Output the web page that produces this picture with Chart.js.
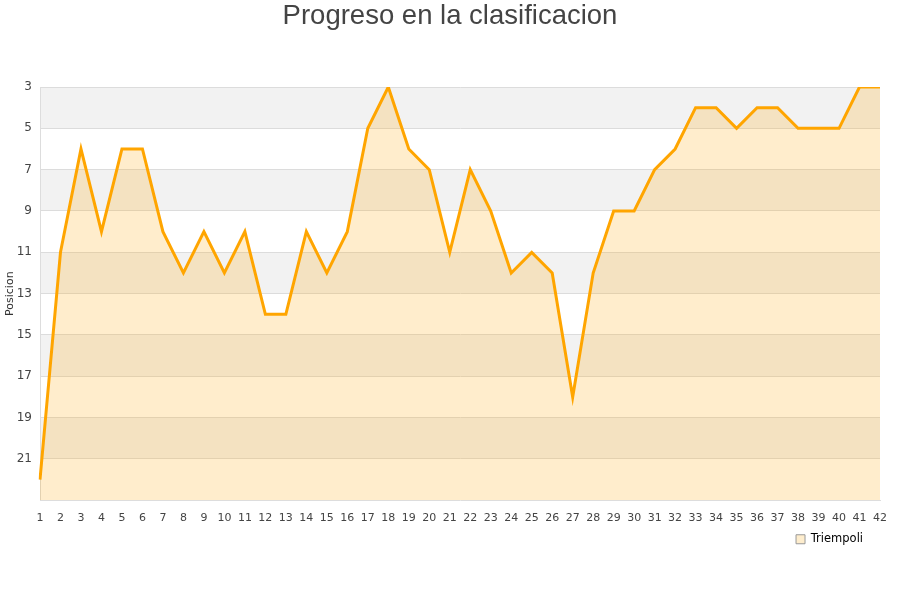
<!DOCTYPE html>
<html>
<head>
<meta charset="utf-8">
<script src="https://cdn.jsdelivr.net/npm/chart.js@4"></script>
<style>
  body { margin: 0; background: #fff; }
</style>
</head>
<body>
<canvas id="rankChart" width="900" height="600"></canvas>
<script>
// jornadas 1..42
var jornadas = [];
for (var i = 1; i <= 42; i++) jornadas.push(String(i));

var posiciones = [22, 11, 6, 10, 6, 6, 10, 12, 10, 12,
                  10, 14, 14, 10, 12, 10, 5, 3, 6, 7,
                  11, 7, 9, 12, 11, 12, 18, 12, 9, 9,
                  7, 6, 4, 4, 5, 4, 4, 5, 5, 5,
                  3, 3];

var yTicks = [3, 5, 7, 9, 11, 13, 15, 17, 19, 21];
// shaded bands behind the plot (from, to)
var bandas = [[3, 5], [7, 9], [11, 13], [15, 17], [19, 21]];

const bandPlugin = {
  id: 'bands',
  beforeDraw(chart) {
    const ctx = chart.ctx, y = chart.scales.y, a = chart.chartArea;
    ctx.save();
    ctx.fillStyle = '#f2f2f2';
    for (const b of bandas) {
      const y1 = y.getPixelForValue(b[0]), y2 = y.getPixelForValue(b[1]);
      ctx.fillRect(a.left, y1, a.right - a.left, y2 - y1);
    }
    ctx.restore();
  }
};

new Chart('rankChart', {
  type: 'line',
  data: {
    labels: jornadas,
    datasets: [{
      label: 'Triempoli',
      data: posiciones,
      borderColor: '#ffa500',
      backgroundColor: 'rgba(255,165,0,0.2)',
      borderWidth: 3,
      fill: 'start',
      tension: 0,
      pointRadius: 0,
      pointHoverRadius: 0
    }]
  },
  options: {
    responsive: false,
    animation: false,
    layout: { padding: { left: 2, right: 2, top: 0, bottom: 45 } },
    plugins: {
      title: {
        display: true,
        text: 'Progreso en la clasificacion',
        color: '#444',
        font: { family: 'Arial, "Liberation Sans", sans-serif', size: 27.5, weight: 'normal' },
        padding: { top: 0, bottom: 54 }
      },
      legend: {
        position: 'bottom',
        align: 'end',
        fullSize: false,
        labels: {
          color: '#222',
          boxWidth: 9,
          boxHeight: 9,
          padding: 6,
          font: { family: 'DejaVu Sans', size: 11.5 },
          generateLabels(chart) {
            return [{ text: 'Triempoli   ', fillStyle: '#feedcd', strokeStyle: '#999', lineWidth: 1, datasetIndex: 0 }];
          }
        }
      },
      tooltip: { enabled: false }
    },
    scales: {
      x: {
        offset: false,
        grid: { display: false },
        border: { color: '#ddd' },
        ticks: { color: '#444', maxRotation: 0, autoSkip: false, font: { family: 'DejaVu Sans', size: 11 } }
      },
      y: {
        reverse: true,
        min: 3,
        max: 23,
        position: 'left',
        afterBuildTicks(s) { s.ticks = yTicks.map(v => ({ value: v })); },
        afterFit(s) { s.width = 38; },
        grid: { color: '#dcdcdc', drawTicks: false },
        border: { color: '#ddd' },
        title: { display: true, text: 'Posicion', color: '#333', padding: 2, font: { family: 'DejaVu Sans', size: 11 } },
        ticks: { color: '#444', padding: 8, font: { family: 'DejaVu Sans', size: 12 } }
      },
      // empty right axis, only to balance the margins
      yRight: {
        position: 'right',
        afterFit(s) { s.width = 18; },
        grid: { display: false },
        border: { display: false },
        ticks: { display: false }
      }
    }
  },
  plugins: [bandPlugin]
});
</script>
</body>
</html>
